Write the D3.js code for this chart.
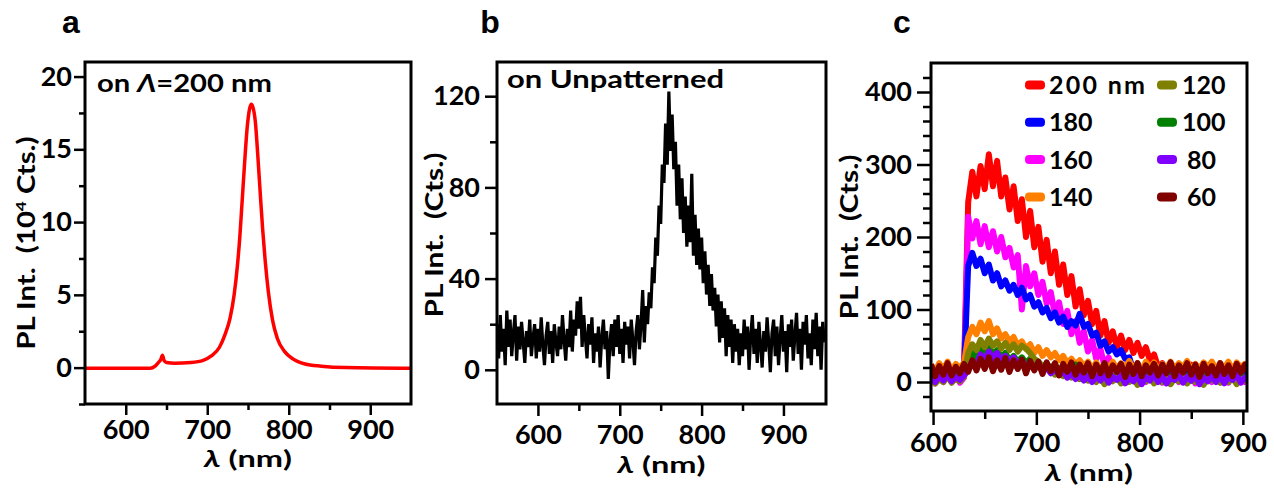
<!DOCTYPE html>
<html>
<head>
<meta charset="utf-8">
<script src="https://cdn.jsdelivr.net/npm/d3@7"></script>
<style>
  body { margin: 0; background: #fff; }
  svg text { font-family: Lato, "DejaVu Sans", sans-serif; font-weight: bold; fill: #000; }
</style>
</head>
<body>
<div id="chart"></div>
<script>
// ---- panel a : on Λ=200 nm (10^4 counts) ----
const lamA = [550, 600, 630, 636, 640, 643, 645, 647, 650, 660,
              680, 695, 705, 715, 722, 728, 733, 737, 740, 743,
              746, 749, 752, 754, 756, 759, 762, 765, 768, 771,
              775, 780, 786, 795, 805, 820, 840, 870, 950];
const intA = [-0.05, -0.05, -0.05, 0.1, 0.35, 0.55, 0.85, 0.5, 0.35, 0.3,
              0.35, 0.5, 0.8, 1.4, 2.3, 3.4, 5.0, 7.0, 9.0, 11.6,
              14.2, 16.5, 17.8, 18.1, 17.9, 16.9, 14.6, 12.0, 9.5, 7.4,
              5.2, 3.3, 2.0, 1.1, 0.6, 0.25, 0.1, 0.0, -0.05];

// ---- panel b : unpatterned (counts), every 2 nm from 550 ----
const lamB = d3.range(550, 951, 2);
const intB = [
  20, 5, 24, 8, 18, 2, 26, 10, 22, 6, 16, 24, 4, 19, 9, 21, 12, 3, 17, 10, 22, 6, 14, 20, 5,
  18, 8, 23, 11, 2, 15, 21, 7, 17, 3, 20, 12, 6, 19, 9, 24, 13, 4, 18, 10, 26, 8, 22, 15, 30,
  18, 32, 10, 24, 14, 5, 20, 11, 23, 3, 16, 8, 19, 1, 14, 22, 9, 17, -4, 12, 20, 6, 22, 10, 24,
  7, 18, 3, 21, 11, 19, 5, 22, 13, 2, 17, 24, 9, 20, 35, 12, 28, 20, 34, 27, 45, 38, 58, 50, 72,
  64, 90, 82, 108, 90, 122, 96, 112, 88, 100, 72, 90, 66, 84, 60, 76, 54, 72, 56, 86, 50, 68, 46, 62, 44,
  58, 38, 52, 33, 46, 28, 42, 26, 36, 19, 33, 12, 30, 14, 27, 6, 24, 10, 22, 3, 20, 8, 18, 2, 16,
  6, 22, 9, 19, 0, 15, 24, 7, 18, 3, 21, 11, 1, 17, 8, 23, 12, -1, 16, 22, 6, 19, 2, 14, 24,
  8, 17, -1, 20, 10, 22, 4, 15, 25, 7, 18, 0, 21, 11, 24, 5, 16, 2, 22, 9, 25, 6, 19, 0, 21, 12];

// ---- panel c : periods (counts), every 4 nm from 598 ----
const lamC = d3.range(598, 907, 4);
const c200 = [22, 8, 20, 12, 25, 10, 18, 6, 20,
  248, 290, 256, 298, 266, 314, 270, 305, 256, 282,
  238, 270, 222, 252, 200, 236, 186, 214, 166, 196,
  150, 180, 134, 162, 120, 146, 104, 128, 92, 112,
  80, 98, 64, 84, 54, 70, 48, 64, 44, 58,
  40, 54, 36, 48, 30, 38, 20, 26, 12, 20,
  22, 8, 20, 12, 24, 9, 18, 23, 7, 19,
  11, 24, 8, 20, 13, 25, 9, 18, 14];
const c180 = [14, 4, 12, 6, 16, 3, 11, 7, 13,
  160, 178, 160, 170, 150, 162, 140, 150, 132, 140,
  126, 134, 120, 130, 114, 120, 104, 110, 96, 102,
  88, 96, 82, 90, 76, 84, 78, 94, 76, 80,
  64, 68, 50, 56, 42, 48, 38, 44, 32, 34,
  16, 16, 6, 14, 4, 12, 2, 10, 5, 13,
  3, 11, 6, 14, 2, 10, 7, 12, 4, 13,
  5, 11, 2, 12, 6, 14, 3, 10, 8];
const c160 = [10, -2, 8, 0, 12, 2, 9, -1, 6,
  228, 198, 222, 190, 215, 186, 208, 180, 200, 172,
  185, 158, 175, 100, 160, 132, 150, 120, 138, 108,
  124, 92, 110, 80, 98, 66, 84, 54, 70, 42,
  58, 32, 46, 22, 34, 14, 22, 6, 14, 4,
  12, 2, 10, 0, 8, 3, 12, -1, 9, 2,
  10, 0, 8, 4, 11, -2, 7, 2, 10, 0,
  8, 3, 11, -1, 9, 2, 10, 0, 6];
const c140 = [24, 14, 26, 18, 28, 15, 25, 19, 27,
  62, 76, 66, 82, 70, 84, 66, 74, 60, 66,
  56, 62, 50, 56, 46, 52, 40, 48, 36, 44,
  34, 40, 30, 36, 26, 32, 24, 30, 22, 28,
  18, 27, 16, 25, 19, 28, 17, 26, 20, 29,
  18, 26, 15, 28, 20, 27, 16, 25, 19, 28,
  17, 26, 20, 29, 16, 25, 18, 27, 21, 28,
  17, 26, 19, 28, 16, 27, 20, 25, 22];
const c120 = [6, -2, 4, 0, 8, -1, 5, 1, 7,
  40, 52, 44, 58, 48, 60, 50, 56, 46, 54,
  44, 52, 42, 50, 46, 40, 32, 28, 22, 18,
  16, 10, 14, 8, 12, 6, 10, 4, 9, 2,
  8, 0, 6, -3, 5, 1, 7, -2, 4, 0,
  6, -4, 5, 1, 8, -2, 4, 0, 7, -3,
  5, 1, 8, -2, 6, 0, 4, -4, 7, 2,
  5, -1, 8, 0, 6, -3, 4, 2, 5];
const c100 = [10, 3, 9, 5, 12, 4, 10, 6, 11,
  30, 40, 32, 46, 36, 48, 38, 44, 34, 40,
  30, 36, 28, 34, 26, 32, 24, 28, 20, 26,
  18, 24, 16, 22, 14, 20, 24, 12, 16, 8,
  12, 4, 10, 2, 13, 5, 11, 3, 12, 6,
  13, 4, 10, 2, 12, 6, 14, 3, 11, 5,
  12, 2, 10, 6, 14, 4, 11, 3, 13, 5,
  10, 2, 12, 6, 13, 4, 11, 3, 9];
const c80 = [6, 0, 8, 2, 10, 1, 7, 3, 9,
  16, 28, 24, 38, 30, 42, 32, 40, 30, 36,
  28, 34, 24, 30, 20, 26, 18, 24, 16, 20,
  12, 18, 10, 15, 6, 12, 4, 10, 2, 8,
  0, 8, 2, 10, -1, 7, 3, 9, -2, 6,
  1, 9, -3, 7, 2, 10, 0, 8, -2, 6,
  3, 10, -1, 7, 2, 9, -3, 6, 1, 8,
  0, 9, -2, 7, 3, 10, -1, 6, 2];
const c60 = [24, 8, 22, 10, 26, 9, 21, 12, 25,
  14, 30, 16, 32, 18, 34, 15, 30, 17, 33,
  14, 30, 18, 31, 12, 29, 16, 28, 11, 27,
  15, 26, 9, 25, 14, 27, 10, 24, 13, 26,
  8, 24, 12, 26, 9, 23, 14, 25, 7, 24,
  11, 26, 8, 23, 13, 25, 9, 24, 12, 27,
  8, 23, 13, 26, 10, 24, 7, 25, 12, 22,
  9, 26, 11, 23, 8, 25, 13, 24, 10];
const namesC = ["200 nm", "180", "160", "140", "120", "100", "80", "60"];
const valuesC = [c200, c180, c160, c140, c120, c100, c80, c60];
const colorsC = ["#ff0000", "#0000ff", "#ff00ff", "#ff8000", "#808000", "#008000", "#8000ff", "#800000"];
const drawOrderC = [0, 2, 1, 3, 5, 4, 6, 7];

// tick values
const xMajorAB = [600, 700, 800, 900], xMinorAB = [650, 750, 850];
const yMajorA = [0, 5, 10, 15, 20], yMinorA = [-2.5, 2.5, 7.5, 12.5, 17.5];
const yMajorB = [0, 40, 80, 120], yMinorB = [20, 60, 100];
const xMajorC = [600, 700, 800, 900], xMinorC = [650, 750, 850];
const yMajorC = [0, 100, 200, 300, 400];
const yMinorC = [-20, 20, 40, 60, 80, 120, 140, 160, 180, 220, 240, 260, 280, 320, 340, 360, 380, 420];

const svg = d3.select("#chart").append("svg")
  .attr("width", 1274).attr("height", 491);

function drawPanel(p) {
  const x = d3.scaleLinear().domain(p.xDom).range([p.left, p.right]);
  const y = d3.scaleLinear().domain(p.yDom).range([p.bottom, p.top]);
  const g = svg.append("g");

  svg.append("clipPath").attr("id", "clip" + p.id).append("rect")
    .attr("x", p.left).attr("y", p.top)
    .attr("width", p.right - p.left).attr("height", p.bottom - p.top);

  g.append("g").attr("transform", "translate(" + p.left + ",0)")
    .call(d3.axisLeft(y).tickValues(p.yMinor).tickSize(p.minorLen).tickFormat(""));
  g.append("g").attr("transform", "translate(" + p.left + ",0)")
    .call(d3.axisLeft(y).tickValues(p.yMajor).tickSize(p.majorLen).tickPadding(p.yPad));
  g.append("g").attr("transform", "translate(0," + p.bottom + ")")
    .call(d3.axisBottom(x).tickValues(p.xMinor).tickSize(p.minorLen).tickFormat(""));
  g.append("g").attr("transform", "translate(0," + p.bottom + ")")
    .call(d3.axisBottom(x).tickValues(p.xMajor).tickSize(p.majorLen).tickPadding(p.xPad));
  g.selectAll(".domain").remove();
  g.selectAll(".tick line").attr("stroke", "#000").attr("stroke-width", 2.5);
  g.selectAll(".tick text").style("font-size", "27px");

  const plot = svg.append("g").attr("clip-path", "url(#clip" + p.id + ")");

  // panel letter
  svg.append("text").attr("x", p.letterX).attr("y", 33)
    .attr("text-anchor", "middle").style("font-size", "32px")
    .style("font-family", "'Liberation Sans', Arial, sans-serif").text(p.letter);

  // x title
  const xt = svg.append("text").attr("x", (p.left + p.right) / 2).attr("y", p.xTitleY)
    .attr("text-anchor", "middle").style("font-size", "23px")
    .attr("textLength", 88).attr("lengthAdjust", "spacingAndGlyphs");
  xt.append("tspan").style("font-style", "italic").text("λ");
  xt.append("tspan").text(" (nm)");

  // y title
  const yt = svg.append("text")
    .attr("transform", "translate(" + p.yTitleX + "," + p.yTitleY + ") rotate(-90)")
    .attr("text-anchor", "middle").style("font-size", "24px").style("white-space", "pre")
    .attr("textLength", p.yTitleLen).attr("lengthAdjust", "spacingAndGlyphs");
  if (p.sup) {
    yt.append("tspan").text("PL Int.  (10");
    yt.append("tspan").attr("dy", -9).style("font-size", "14px").text("4");
    yt.append("tspan").attr("dy", 9).text(" Cts.)");
  } else {
    yt.text("PL Int.  (Cts.)");
  }

  return { x: x, y: y, plot: plot, p: p };
}

function drawFrame(p) {
  svg.append("rect").attr("x", p.left).attr("y", p.top)
    .attr("width", p.right - p.left).attr("height", p.bottom - p.top)
    .attr("fill", "none").attr("stroke", "#000").attr("stroke-width", 3);
}

// ---------- a ----------
const pa = drawPanel({
  id: "a", letter: "a", letterX: 71,
  left: 85, right: 411, top: 62, bottom: 404,
  xDom: [550, 950], yDom: [-2.5, 21],
  xMajor: xMajorAB, xMinor: xMinorAB, yMajor: yMajorA, yMinor: yMinorA,
  majorLen: 11, minorLen: 6, yPad: 2, xPad: 5,
  xTitleY: 467, yTitleX: 35, yTitleY: 243, yTitleLen: 213, sup: true
});
pa.plot.append("path")
  .datum(d3.zip(lamA, intA))
  .attr("fill", "none").attr("stroke", "#ff0000").attr("stroke-width", 3.5)
  .attr("d", d3.line().x(d => pa.x(d[0])).y(d => pa.y(d[1])).curve(d3.curveMonotoneX));
drawFrame(pa.p);
const ta = svg.append("text").attr("x", 97).attr("y", 92).style("font-size", "24px")
  .attr("textLength", 175).attr("lengthAdjust", "spacingAndGlyphs");
ta.append("tspan").text("on ");
ta.append("tspan").style("font-style", "italic").text("Λ");
ta.append("tspan").text("=200 nm");

// ---------- b ----------
const pb = drawPanel({
  id: "b", letter: "b", letterX: 490,
  left: 497, right: 826, top: 62, bottom: 404,
  xDom: [550, 952], yDom: [-15, 135],
  xMajor: xMajorAB, xMinor: xMinorAB, yMajor: yMajorB, yMinor: yMinorB,
  majorLen: 12, minorLen: 7, yPad: 5, xPad: 9,
  xTitleY: 473, yTitleX: 443, yTitleY: 235, yTitleLen: 165, sup: false
});
pb.plot.append("path")
  .datum(d3.zip(lamB, intB))
  .attr("fill", "none").attr("stroke", "#000").attr("stroke-width", 3.2)
  .attr("stroke-linejoin", "miter")
  .attr("d", d3.line().x(d => pb.x(d[0])).y(d => pb.y(d[1])));
drawFrame(pb.p);
svg.append("text").attr("x", 507).attr("y", 88).style("font-size", "24px")
  .attr("textLength", 217).attr("lengthAdjust", "spacingAndGlyphs")
  .text("on Unpatterned");

// ---------- c ----------
const pc = drawPanel({
  id: "c", letter: "c", letterX: 902,
  left: 931, right: 1247, top: 63, bottom: 411,
  xDom: [598, 904], yDom: [-40, 440],
  xMajor: xMajorC, xMinor: xMinorC, yMajor: yMajorC, yMinor: yMinorC,
  majorLen: 14, minorLen: 8, yPad: 5, xPad: 8,
  xTitleY: 481, yTitleX: 858, yTitleY: 237, yTitleLen: 165, sup: false
});
const lineC = d3.line().x(d => pc.x(d[0])).y(d => pc.y(d[1]));
drawOrderC.forEach(function(i) {
  pc.plot.append("path")
    .datum(d3.zip(lamC, valuesC[i]))
    .attr("fill", "none").attr("stroke", colorsC[i]).attr("stroke-width", 6)
    .attr("stroke-linejoin", "round")
    .attr("d", lineC);
});
drawFrame(pc.p);

// legend
const leg = svg.append("g");
namesC.forEach(function(name, i) {
  const col = i < 4 ? 0 : 1;
  const row = i % 4;
  const cy = 85 + row * 37.3;
  const sx = col ? 1157 : 1025;
  leg.append("rect").attr("x", sx).attr("y", cy - 4.5)
    .attr("width", 20).attr("height", 9).attr("rx", 4)
    .attr("fill", colorsC[i]);
  const t = leg.append("text")
    .attr("x", (col ? 1182 : 1049) + (name.length < 3 ? 5 : 0))
    .attr("y", cy + 9).style("font-size", "25px")
    .text(name);
  if (name.length > 3) t.attr("textLength", 96).attr("lengthAdjust", "spacing");
});
</script>
</body>
</html>
